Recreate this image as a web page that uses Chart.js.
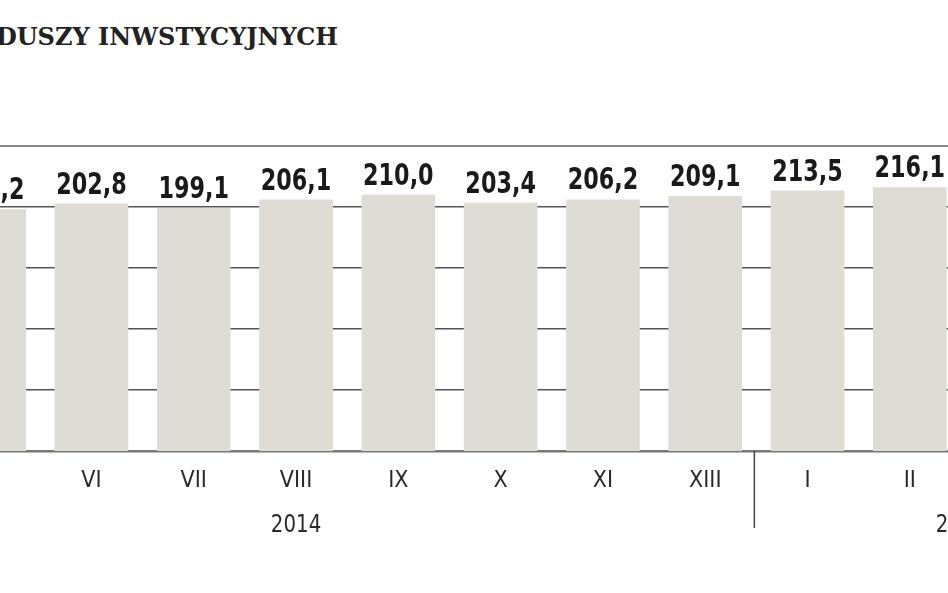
<!DOCTYPE html>
<html>
<head>
<meta charset="utf-8">
<script src="https://cdn.jsdelivr.net/npm/chart.js@4/dist/chart.umd.min.js"></script>
<style>
  html, body { margin: 0; padding: 0; background: #fff; overflow: hidden; }
  body { width: 948px; height: 593px; position: relative; }
  .title {
    position: absolute; right: 610px; top: 22px;
    font-family: "DejaVu Serif", serif;
    font-weight: bold; font-size: 24px; color: #222;
    white-space: nowrap; line-height: 30px;
  }
  .wrap { position: absolute; left: -62px; top: 0; width: 1023px; height: 593px; }
</style>
</head>
<body>
<div class="title">FUNDUSZY INWSTYCYJNYCH</div>
<div class="wrap"><canvas id="myChart"></canvas></div>
<script>
// assets of investment funds, bln zl (monthly)
let months = ["V", "VI", "VII", "VIII", "IX", "X", "XI", "XIII", "I", "II"];
let values = [198.2, 202.8, 199.1, 206.1, 210.0, 203.4, 206.2, 209.1, 213.5, 216.1];
let yearLabels = ["2014", "2015"];
let yearAt = [3, 9.5];       // category position of each year label
let yearBreak = 7.48;        // separator between XIII and I

let fmt = (v) => v.toFixed(1).replace(".", ",");

// value labels, year labels and the year separator
let extras = {
  id: "extras",
  afterDatasetsDraw(chart) {
    let ctx = chart.ctx;
    let x = chart.scales.x;
    let bottom = chart.chartArea.bottom;
    ctx.save();
    ctx.fillStyle = "#1a1a1a";
    ctx.font = "bold 31px 'DejaVu Sans Condensed', sans-serif";
    ctx.textAlign = "center";
    ctx.textBaseline = "alphabetic";
    chart.getDatasetMeta(0).data.forEach((bar, i) => {
      ctx.save();
      ctx.translate(bar.x, bar.y - 10);
      ctx.scale(0.8, 1);
      ctx.fillText(fmt(values[i]), 0, 0);
      ctx.restore();
    });

    ctx.font = "25px 'DejaVu Sans Condensed', sans-serif";
    ctx.fillStyle = "#2a2a2a";
    for (let i = 0; i < yearLabels.length; i++) {
      let px = x.getPixelForValue(yearAt[i]);
      ctx.save();
      ctx.translate(px, 532);
      ctx.scale(0.88, 1);
      ctx.fillText(yearLabels[i], 0, 0);
      ctx.restore();
    }

    let sx = x.getPixelForValue(yearBreak);
    ctx.strokeStyle = "#444";
    ctx.lineWidth = 1.5;
    ctx.beginPath();
    ctx.moveTo(sx, bottom);
    ctx.lineTo(sx, 528);
    ctx.stroke();
    ctx.restore();
  }
};

let ctx = document.getElementById("myChart").getContext("2d");
let myChart = new Chart(ctx, {
  type: "bar",
  data: {
    labels: months,
    datasets: [
      {
        label: "",
        data: values,
        backgroundColor: "#dedcd5",
        borderWidth: 0,
        barPercentage: 0.72,
        categoryPercentage: 1,
      },
    ],
  },
  options: {
    responsive: true,
    maintainAspectRatio: false,
    animation: false,
    layout: { padding: { top: 146, bottom: 0, left: 0, right: 0 } },
    plugins: {
      legend: { display: false },
      tooltip: { enabled: false },
    },
    scales: {
      x: {
        offset: true,
        grid: { display: false },
        border: { display: true, color: "#777", width: 2.5 },
        ticks: {
          color: "#2a2a2a",
          padding: 8,
          font: { family: "'DejaVu Sans Condensed', sans-serif", size: 23 },
        },
        afterFit(scale) { scale.height = 142; },
      },
      y: {
        display: true,
        min: 0,
        max: 250,
        border: { display: false },
        ticks: { stepSize: 50, display: false },
        grid: {
          drawTicks: false,
          color: (c) => (c.tick.value === 250 ? "#888" : "#555"),
          lineWidth: (c) => (c.tick.value === 0 ? 0 : c.tick.value === 250 ? 2 : 1.5),
        },
        afterFit(scale) { scale.width = 0; },
      },
    },
  },
  plugins: [extras],
});
</script>
</body>
</html>
